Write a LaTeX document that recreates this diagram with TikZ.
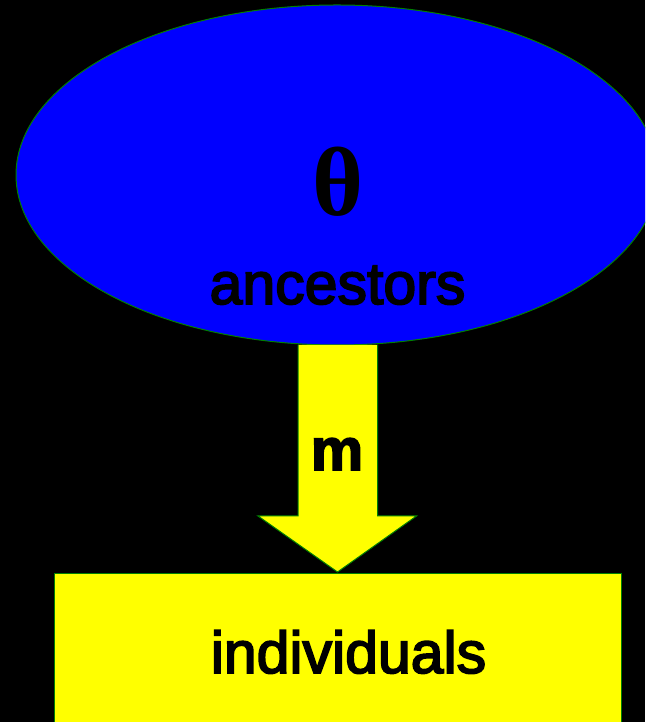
\documentclass[tikz,border=0pt]{standalone}
\usepackage{fontspec}
\setmainfont{Liberation Sans}
\newfontfamily\labelfont{Liberation Sans}[FakeBold=3]
\newfontfamily\thetafont{Liberation Serif}
\usetikzlibrary{shapes.geometric}
\definecolor{edgegreen}{RGB}{0,128,0}
\definecolor{fillblue}{RGB}{0,0,255}
\definecolor{fillyellow}{RGB}{255,255,0}
\tikzset{
  outline/.style={draw=edgegreen, line width=1pt},
  label/.style={inner sep=0pt, anchor=base, text=black, font=\labelfont\fontsize{59}{60}\selectfont},
}
\begin{document}
\begin{tikzpicture}[x=1pt, y=1pt]
  \useasboundingbox (0,0) rectangle (645,722);
  \clip (0,0) rectangle (645,722);
  \fill[black] (0,0) rectangle (645,722);

  % top population: the ancestors
  \node[ellipse, outline, fill=fillblue, inner sep=0pt,
        minimum width=642, minimum height=340] (anc) at (337,547) {};
  \node[inner sep=0pt, anchor=base, font=\thetafont\bfseries\fontsize{98}{100}\selectfont] (theta) at (338,506) {θ};
  \node[label] (anclabel) at (337.5,418) {ancestors};

  % bottom population: the individuals
  \node[rectangle, outline, fill=fillyellow, inner sep=0pt, anchor=north west,
        minimum width=567, minimum height=200] (ind) at (54,149.3) {};
  \node[label] (indlabel) at (348.5,49) {individuals};

  % migration arrow
  \coordinate (tip) at (337.5,150);
  \draw[outline, fill=fillyellow]
    (298,377) -- (298,206) -- (258,206) -- (tip) -- (416.5,206)
    -- (377.5,206) -- (377.5,377);
  \node[label, font=\labelfont\bfseries\fontsize{59}{60}\selectfont] (mig) at (337,252) {m};
\end{tikzpicture}
\end{document}
